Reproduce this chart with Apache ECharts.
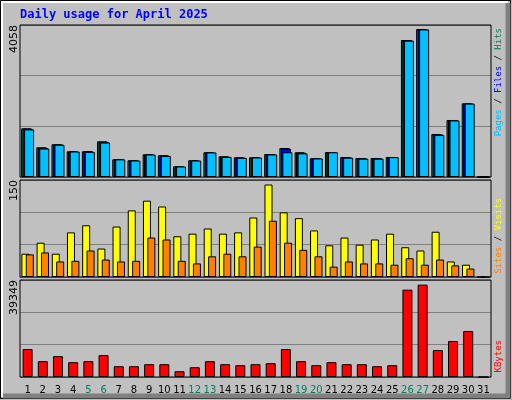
<!DOCTYPE html>
<html><head><meta charset="utf-8">
<script src="https://cdn.jsdelivr.net/npm/echarts@6/dist/echarts.min.js"></script>
<style>html,body{margin:0;padding:0;background:#c0c0c0}#chart-container{width:512px;height:400px}</style>
</head><body><div id="chart-container"></div>
<script>
var days = [];
for (var d = 1; d <= 31; d++) days.push(String(d));
var weekend = ['5','6','12','13','19','20','26','27'];
// top panel
var hits  = [1300,793,873,686,686,953,473,446,606,580,286,446,660,553,526,526,614,774,660,500,667,534,507,507,534,3657,3951,1148,1522,1967,0];
var files = [1290,780,870,680,686,940,470,440,600,575,280,440,655,545,520,520,610,760,650,495,660,525,500,500,530,3650,3945,1140,1515,1960,0];
var pages = [1270,760,860,680,670,920,470,440,600,560,280,440,655,535,510,520,600,660,630,495,660,515,490,490,530,3640,3940,1120,1510,1960,0];
// middle panel
var visits = [36,53,36,69,80,44,78,103,118,109,63,67,75,67,69,92,143,100,91,72,49,61,50,58,67,46,41,70,24,19,0];
var sites  = [35,38,24,25,41,27,24,25,61,58,25,21,32,36,32,47,87,53,42,32,16,24,21,21,19,29,19,27,18,13,0];
// bottom panel
var kbytes = [11318,6415,8458,6006,6415,8867,4372,4372,5189,5189,2329,3963,6415,5189,4781,5189,5598,11318,6415,4781,6006,5189,5189,4372,4781,35426,37469,10910,14587,18673,0];
var maxTop = 4058, maxMid = 150, maxBot = 39349;

var myChart = echarts.init(document.getElementById('chart-container'), null, {renderer: 'canvas'});
var font = 'DejaVu Sans';
var mono = 'DejaVu Sans Mono';
var grids = [
  {left: 20, width: 471, top: 25, height: 152},
  {left: 20, width: 471, top: 180, height: 97},
  {left: 20, width: 471, top: 280, height: 97}
];
function xa(i, show) {
  return {
    type: 'category', gridIndex: i, data: days,
    axisLine: {show: false}, axisTick: {show: false},
    axisLabel: {show: show, interval: 0, fontFamily: font, fontSize: 10, margin: 8,
      color: function (v) { return weekend.indexOf(v) >= 0 ? '#007f5f' : '#000'; }}
  };
}
function ya(i, max) {
  return {
    type: 'value', gridIndex: i, min: 0, max: max, interval: max / 3,
    axisLabel: {show: false}, axisLine: {show: false}, axisTick: {show: false},
    splitLine: {lineStyle: {color: '#808080', width: 1}}
  };
}
function bar(name, data, i, color, w, gap) {
  return {
    name: name, type: 'bar', xAxisIndex: i, yAxisIndex: i, data: data,
    barWidth: w, barGap: gap, animation: false, silent: true,
    itemStyle: {color: color, borderColor: '#000', borderWidth: 1}
  };
}
function frame(g) {
  return {type: 'rect', shape: {x: g.left, y: g.top, width: g.width, height: g.height},
    style: {fill: 'none', stroke: '#000', lineWidth: 1}, silent: true, z: 100};
}
function vtext(x, y, rich, str, size) {
  return {type: 'text', x: x, y: y, rotation: Math.PI / 2,
    style: {text: str, rich: rich, font: size + 'px ' + font, align: 'right', verticalAlign: 'middle', fill: '#000'}, z: 100};
}
var rf = '9px ' + mono;
option = {
  backgroundColor: '#c0c0c0',
  grid: grids,
  xAxis: [xa(0, false), xa(1, false), xa(2, true)],
  yAxis: [ya(0, maxTop), ya(1, maxMid), ya(2, maxBot)],
  series: [
    bar('Hits', hits, 0, '#00805c', 10, '-85%'),
    bar('Files', files, 0, '#0000ff', 10, '-85%'),
    bar('Pages', pages, 0, '#00c0ff', 10, '-85%'),
    bar('Visits', visits, 1, '#ffff00', 8, '-45%'),
    bar('Sites', sites, 1, '#ff8000', 8, '-45%'),
    bar('KBytes', kbytes, 2, '#ff0000', 10, '0%')
  ],
  graphic: [
    {type: 'rect', shape: {x: 0.5, y: 0.5, width: 510, height: 398}, style: {fill: 'none', stroke: '#000', lineWidth: 1}, silent: true},
    {type: 'polyline', shape: {points: [[2, 397], [2, 2], [508, 2]]}, style: {stroke: '#fff', fill: 'none', lineWidth: 2}, silent: true},
    {type: 'polyline', shape: {points: [[508, 3], [508, 396], [3, 396]]}, style: {stroke: '#808080', fill: 'none', lineWidth: 5}, silent: true},
    frame(grids[0]), frame(grids[1]), frame(grids[2]),
    {type: 'text', x: 20, y: 9, style: {text: 'Daily usage for April 2025', font: 'bold 12px ' + mono, fill: '#0000ff'}},
    vtext(14, 25, null, '4058', 11),
    vtext(14, 180, null, '150', 11),
    vtext(14, 280, null, '39349', 11),
    vtext(499, 28, {p: {fill: '#00c0ff', font: rf}, f: {fill: '#0000ff', font: rf}, h: {fill: '#00805c', font: rf}, s: {fill: '#000', font: rf}},
      '{p|Pages}{s| / }{f|Files}{s| / }{h|Hits}', 9),
    vtext(499, 198, {a: {fill: '#ff8000', font: rf}, b: {fill: '#ffff00', font: rf}, s: {fill: '#000', font: rf}},
      '{a|Sites}{s| / }{b|Visits}', 9),
    vtext(499, 340, {k: {fill: '#ff0000', font: rf}}, '{k|KBytes}', 9)
  ]
};
myChart.setOption(option);
window.addEventListener('resize', myChart.resize);
</script></body></html>
